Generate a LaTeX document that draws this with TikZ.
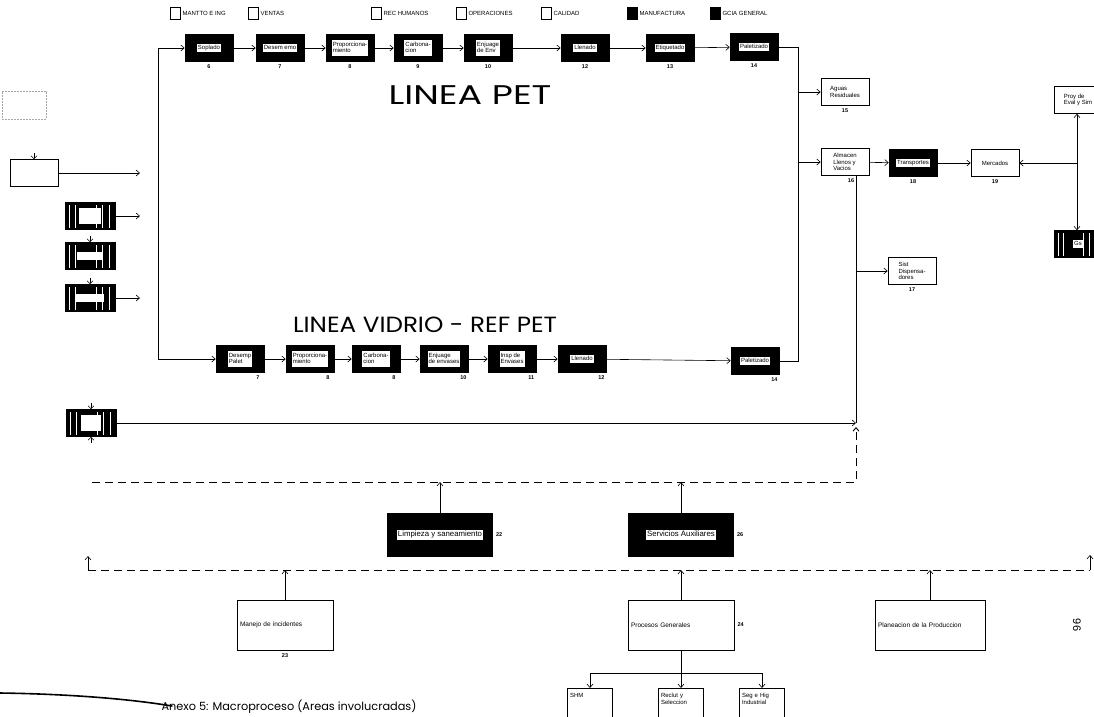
\documentclass[tikz,border=0pt]{standalone}
\usepackage{fontspec}
\setmainfont{Liberation Sans}
\newfontfamily\titlefont{Poppins}
\usetikzlibrary{arrows.meta, positioning, calc}
\tikzset{
	proc/.style={rectangle, draw=black, fill=white, line width=0.6pt, align=left, minimum width=48pt, minimum height=27pt, inner sep=1.5pt, font=\fontsize{6}{6.6}\selectfont},
	darkproc/.style={proc, fill=black, align=center},
	stripeproc/.style={darkproc, path picture={
		\foreach \f in {0.08,0.2,0.62,0.74,0.88}{
			\draw[white, line width=0.7pt] ($(path picture bounding box.south west)!\f!(path picture bounding box.south east)+(0pt,2pt)$) -- ($(path picture bounding box.north west)!\f!(path picture bounding box.north east)+(0pt,-2pt)$);
		}}},
	wideproc/.style={proc, minimum width=96pt, minimum height=50pt, font=\fontsize{6.5}{7}\selectfont},
	widedark/.style={darkproc, minimum width=105pt, minimum height=43pt, font=\fontsize{7.8}{8.5}\selectfont},
	footproc/.style={proc, anchor=north, minimum width=45pt, minimum height=32pt, text width=40pt, text depth=18pt},
	num/.style={font=\fontsize{5.5}{5.5}\selectfont\bfseries, inner sep=1pt},
	legbox/.style={draw, line width=0.6pt, minimum width=10pt, minimum height=12pt, inner sep=0pt},
	legtext/.style={font=\fontsize{6}{6}\selectfont, inner sep=1pt},
	arrow/.style={-{Straight Barb[length=3.5pt, width=6pt]}, line width=0.6pt},
	stub/.style={-{Straight Barb[length=3pt, width=6pt]}, line width=0.6pt},
	dashline/.style={dash pattern=on 8pt off 5pt, line width=0.9pt},
}
\newcommand{\wlbl}[1]{{\setlength{\fboxsep}{1pt}\colorbox{white}{\begin{tabular}{@{}l@{}}#1\end{tabular}}}}

\begin{document}
\begin{tikzpicture}[x=1pt, y=-1pt, label distance=2pt]
	\useasboundingbox (0,0) rectangle (1094,716);
	% legend
	\node[legbox] (leg1) at (175,13) {};
	\node[legtext, right=1pt of leg1] (legt1) {MANTTO E ING};
	\node[legbox] (leg2) at (253,13) {};
	\node[legtext, right=1pt of leg2] (legt2) {VENTAS};
	\node[legbox] (leg3) at (376,13) {};
	\node[legtext, right=1pt of leg3] (legt3) {REC HUMANOS};
	\node[legbox] (leg4) at (461,13) {};
	\node[legtext, right=1pt of leg4] (legt4) {OPERACIONES};
	\node[legbox] (leg5) at (546,13) {};
	\node[legtext, right=1pt of leg5] (legt5) {CALIDAD};
	\node[legbox, fill=black] (leg6) at (632,13) {};
	\node[legtext, right=1pt of leg6] (legt6) {MANUFACTURA};
	\node[legbox, fill=black] (leg7) at (715,13) {};
	\node[legtext, right=1pt of leg7] (legt7) {GCIA GENERAL};
	% linea pet
	\node[darkproc, label={[num]below:6}] (sopl) at (209,48) {\wlbl{Soplado}};
	\node[darkproc, label={[num]below:7}] (desa) at (280,48) {\wlbl{Desem emo}};
	\node[darkproc, label={[num]below:8}] (propa) at (350,48) {\wlbl{Proporciona-\\miento}};
	\node[darkproc, label={[num]below:9}] (carba) at (418,48) {\wlbl{Carbona-\\cion}};
	\node[darkproc, label={[num]below:10}] (enja) at (488,48) {\wlbl{Enjuage\\de Env}};
	\node[darkproc, label={[num]below:12}] (llena) at (585,48) {\wlbl{Llenado}};
	\node[darkproc, label={[num]below:13}] (etiq) at (670,48) {\wlbl{Etiquetado}};
	\node[darkproc, label={[num]below:14}] (pala) at (754,47) {\wlbl{Paletizado}};
	\node[font=\titlefont\fontsize{27}{27}\selectfont] (tpet) at (470,95) {\scalebox{1.35}[1]{LINEA PET}};
	% linea vidrio
	\node[font=\titlefont\fontsize{22}{22}\selectfont] (tvid) at (425,325) {\scalebox{1.12}[1]{LINEA VIDRIO - REF PET}};
	\node[darkproc, label={[num]below right:7}] (desb) at (240,359) {\wlbl{Desemp\\Palet}};
	\node[darkproc, label={[num]below right:8}] (propb) at (310,359) {\wlbl{Proporciona-\\miento}};
	\node[darkproc, label={[num]below right:8}] (carbb) at (376,359) {\wlbl{Carbona-\\cion}};
	\node[darkproc, label={[num]below right:10}] (enjb) at (444,359) {\wlbl{Enjuage\\de envases}};
	\node[darkproc, label={[num]below right:11}] (insp) at (512,359) {\wlbl{Insp de\\Envases}};
	\node[darkproc, label={[num]below right:12}] (llenb) at (582,359) {\wlbl{Llenado}};
	\node[darkproc, label={[num]below right:14}] (palb) at (755,361) {\wlbl{Paletizado}};
	\coordinate (tl) at (158,48);
	\coordinate (tr) at (798,47);
	\coordinate (br) at (798,361);
	\draw[arrow] (tl) -- (sopl);
	\draw[arrow] (tl) |- (desb);
	\draw[arrow] (sopl) -- (desa);
	\draw[arrow] (desa) -- (propa);
	\draw[arrow] (propa) -- (carba);
	\draw[arrow] (carba) -- (enja);
	\draw[arrow] (enja) -- (llena);
	\draw[arrow] (llena) -- (etiq);
	\draw[arrow] (etiq) -- (pala);
	\draw[arrow] (desb) -- (propb);
	\draw[arrow] (propb) -- (carbb);
	\draw[arrow] (carbb) -- (enjb);
	\draw[arrow] (enjb) -- (insp);
	\draw[arrow] (insp) -- (llenb);
	\draw[arrow] (llenb) -- (palb);
	\draw[line width=0.6pt] (pala.east |- tr) -- (tr) -- (br) -- (palb.east |- br);
	% distribucion
	\node[proc, label={[num]below:15}] (aguas) at (845,92) {Aguas\\Residuales};
	\node[proc, label={[num, xshift=6pt]below:16}] (alm) at (845,162) {Almacen\\Llenos y\\Vacios};
	\node[darkproc, label={[num]below:18}] (transp) at (913,163) {\wlbl{Transportes}};
	\node[proc, label={[num]below:19}] (merc) at (995,163) {Mercados};
	\node[proc] (proy) at (1078,100) {Proy de\\Eval y Sim};
	\node[stripeproc] (gs) at (1078,244) {\wlbl{Gs}};
	\node[proc, label={[num]below:17}] (sist) at (912,271) {Sist\\Dispensa-\\dores};
	\coordinate (mr) at (1077,163);
	\coordinate (jn) at (856,423);
	\draw[arrow] (tr |- aguas) -- (aguas);
	\draw[arrow] (tr |- alm) -- (alm);
	\draw[arrow] (alm) -- (transp);
	\draw[arrow] (transp) -- (merc);
	\draw[arrow] (mr) -- (merc);
	\draw[arrow] (mr) -- (proy.south -| mr);
	\draw[arrow] (mr) -- (gs.north -| mr);
	\draw[line width=0.6pt] (alm.south -| jn) -- (jn);
	\draw[arrow] (alm.south -| jn) |- (sist);
	% entradas
	\node[proc, draw=black!35, dash pattern=on 2pt off 1pt, minimum width=44pt, minimum height=28pt] (lb0) at (24,105) {};
	\node[proc] (lb1) at (34,173) {};
	\node[stripeproc, minimum width=50pt] (lb2) at (90,216) {\wlbl{\hspace*{20pt}\\\hspace*{10pt}}};
	\node[stripeproc, minimum width=50pt] (lb3) at (90,256) {\wlbl{\hspace*{24pt}}};
	\node[stripeproc, minimum width=50pt] (lb4) at (90,298) {\wlbl{\hspace*{26pt}}};
	\node[stripeproc, minimum width=50pt] (lb5) at (91,423) {\wlbl{\hspace*{18pt}\\\hspace*{12pt}}};
	\coordinate (a1) at (140,173);
	\coordinate (a2) at (140,216);
	\coordinate (a4) at (140,298);
	\draw[arrow] (lb1) -- (a1);
	\draw[arrow] (lb2) -- (a2);
	\draw[arrow] (lb4) -- (a4);
	\draw[stub] ($(lb1.north)+(0,-6)$) -- (lb1.north);
	\draw[stub] ($(lb3.north)+(0,-6)$) -- (lb3.north);
	\draw[stub] ($(lb4.north)+(0,-6)$) -- (lb4.north);
	\draw[stub] ($(lb5.north)+(0,-6)$) -- (lb5.north);
	\draw[stub] ($(lb5.south)+(0,6)$) -- (lb5.south);
	\draw[arrow] (lb5) -- (jn);
	% apoyo
	\coordinate (d1w) at (92,482);
	\coordinate (d1e) at (856,482);
	\coordinate (d2w) at (88,570);
	\coordinate (d2e) at (1090,570);
	\draw[dashline, -{Straight Barb[length=3.5pt, width=6pt]}] (d1w) -- (d1e) -- ($(jn)+(0,4)$);
	\draw[dashline] (d2w) -- (d2e);
	\draw[arrow] (d2w) -- ++(0,-14);
	\draw[arrow] (d2e) -- ++(0,-15);
	\node[widedark, label={[num]right:22}] (limp) at (440,535) {\wlbl{Limpieza y saneamiento}};
	\node[widedark, label={[num]right:26}] (serv) at (681,535) {\wlbl{Servicios Auxiliares}};
	\draw[arrow] (limp) -- (limp |- d1w);
	\draw[arrow] (serv) -- (serv |- d1w);
	\node[wideproc, text width=90pt, label={[num]below:23}] (manejo) at (285,625) {Manejo de incidentes};
	\node[wideproc, minimum width=106pt, text width=100pt, label={[num]right:24}] (procg) at (681,625) {Procesos Generales};
	\node[wideproc, minimum width=110pt, text width=104pt] (plan) at (930,625) {Planeacion de la Produccion};
	\draw[arrow] (manejo) -- (manejo |- d2w);
	\draw[arrow] (procg) -- (procg |- d2w);
	\draw[arrow] (plan) -- (plan |- d2w);
	\node[footproc] (shm) at (590,688) {SHM};
	\node[footproc] (recl) at (681,688) {Reclut y\\Seleccion};
	\node[footproc] (seg) at (762,688) {Seg e Hig\\Industrial};
	\coordinate (pg) at (681,673);
	\draw[line width=0.6pt] (procg) -- (pg);
	\draw[arrow] (pg) -| (shm);
	\draw[arrow] (pg) -- (recl);
	\draw[arrow] (pg) -| (seg);
	% pie
	\node[font=\titlefont\fontsize{11.3}{13}\selectfont, anchor=west] (capt) at (158,707) {Anexo 5: Macroproceso (Areas involucradas)};
	\draw[line width=1.6pt, line cap=round] (0,693) .. controls (70,694) and (130,699) .. (172,706);
	\node[rotate=-90, font=\fontsize{11}{11}\selectfont] (pgnum) at (1077,625) {96};
\end{tikzpicture}
\end{document}
